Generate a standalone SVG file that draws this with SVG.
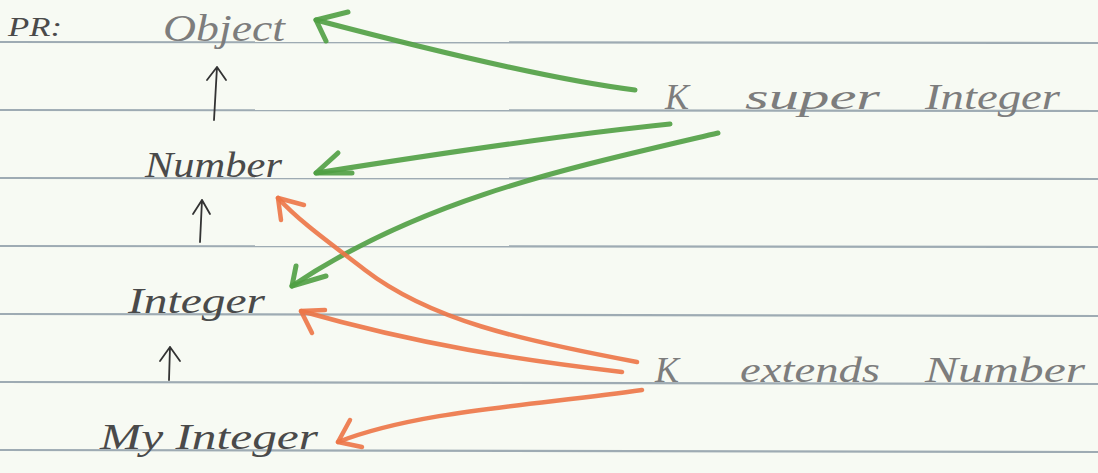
<svg xmlns="http://www.w3.org/2000/svg" width="1098" height="473" viewBox="0 0 1098 473">
<defs>
<style>
.rule{stroke:#9eabb3;stroke-width:2.2}
.txt{font-family:"Liberation Serif",serif;font-style:italic;fill:#4a4a4a}
.light{fill:#7d7d7d}
.pen{fill:none;stroke:#333;stroke-width:1.8;stroke-linecap:round;stroke-linejoin:round}
.green{fill:none;stroke:#4f9e43;stroke-width:5;stroke-linecap:round;stroke-linejoin:round;opacity:0.9}
.orange{fill:none;stroke:#ec7446;stroke-width:4.5;stroke-linecap:round;stroke-linejoin:round;opacity:0.9}
</style>
</defs>
<rect width="1098" height="473" fill="#f7faf3"/>
<g id="paper-lines">
<line class="rule" x1="0" y1="42" x2="1098" y2="43"/>
<line class="rule" x1="0" y1="110" x2="1098" y2="111"/>
<line class="rule" x1="0" y1="178" x2="1098" y2="179"/>
<line class="rule" x1="0" y1="246" x2="1098" y2="247"/>
<line class="rule" x1="0" y1="314" x2="1098" y2="316"/>
<line class="rule" x1="0" y1="382" x2="1098" y2="384"/>
<line class="rule" x1="0" y1="450" x2="1098" y2="452"/>
</g>
<g id="label-pr"><text class="txt" x="8" y="36" font-size="28" textLength="54" lengthAdjust="spacingAndGlyphs">PR:</text></g>
<g id="node-object"><text class="txt light" x="163" y="41" font-size="38" textLength="122" lengthAdjust="spacingAndGlyphs">Object</text></g>
<g id="node-number"><text class="txt" x="145" y="177" font-size="36" textLength="137" lengthAdjust="spacingAndGlyphs">Number</text></g>
<g id="node-integer"><text class="txt" x="128" y="313" font-size="36" textLength="137" lengthAdjust="spacingAndGlyphs">Integer</text></g>
<g id="node-myinteger"><text class="txt" x="100" y="449" font-size="36" textLength="218" lengthAdjust="spacingAndGlyphs">My Integer</text></g>
<g id="label-super"><text class="txt light" y="109" font-size="36"><tspan x="665">K</tspan><tspan x="745" textLength="135" lengthAdjust="spacingAndGlyphs">super</tspan><tspan x="925" textLength="135" lengthAdjust="spacingAndGlyphs">Integer</tspan></text></g>
<g id="label-extends"><text class="txt light" y="382" font-size="36"><tspan x="655">K</tspan><tspan x="740" textLength="140" lengthAdjust="spacingAndGlyphs">extends</tspan><tspan x="925" textLength="160" lengthAdjust="spacingAndGlyphs">Number</tspan></text></g>
<g id="connectors">
<path class="pen" d="M214 120 L217 67 M207 80 L217 67 L226 80"/>
<path class="pen" d="M200 242 L202 200 M193 214 L202 200 L210 214"/>
<path class="pen" d="M169 380 L170 347 M160 361 L170 347 L180 361"/>
<path class="green" d="M635 90 C555 80 430 50 316 20"/>
<path class="green" d="M348 12 L316 20 L326 41"/>
<path class="green" d="M670 124 C560 135 430 155 316 173"/>
<path class="green" d="M338 153 L316 173 L352 173"/>
<path class="green" d="M718 133 C560 170 420 200 292 286"/>
<path class="green" d="M296 266 L292 286 L326 276"/>
<path class="orange" d="M637 362 C520 340 430 320 365 270 C330 243 300 222 278 198"/>
<path class="orange" d="M304 205 L278 198 L281 220"/>
<path class="orange" d="M622 372 C520 360 420 345 301 311"/>
<path class="orange" d="M325 310 L301 311 L312 333"/>
<path class="orange" d="M642 390 C540 405 420 410 338 442"/>
<path class="orange" d="M350 420 L338 442 L362 447"/>
</g>
</svg>
